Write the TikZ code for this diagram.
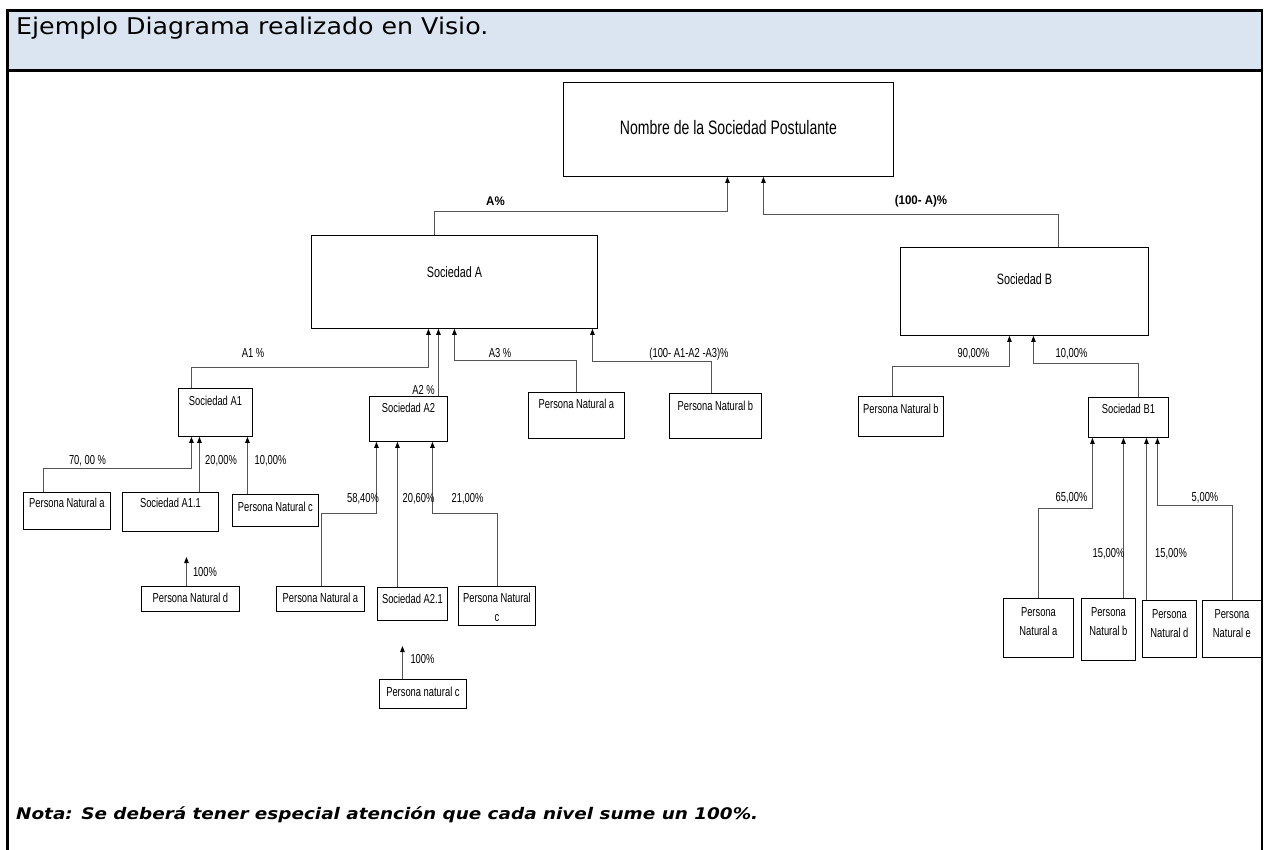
\documentclass[tikz,border=0pt]{standalone}
\usepackage{fontspec}
\setmainfont{Liberation Sans}
\newfontfamily\boxfont[FakeStretch=0.72]{Liberation Sans}
\newfontfamily\pctfont[FakeStretch=0.92]{Liberation Sans}
\newfontfamily\hdrfont[FakeStretch=1.1]{DejaVu Sans}
\newfontfamily\nfont[FakeStretch=1.15]{DejaVu Sans}
\usetikzlibrary{arrows.meta}
\definecolor{hdrblue}{HTML}{DBE5F1}
\definecolor{conngray}{HTML}{555555}
\newcommand\twoline[2]{\vtop{\halign{\hfil##\hfil\cr #1\cr #2\cr}}}
\begin{document}
\begin{tikzpicture}[x=1pt,y=-1pt,
  bx/.style n args={3}{draw=black, line width=0.9pt, inner sep=0pt, anchor=north west,
    minimum width=#1pt, text height=#2pt, text depth=#3pt,
    font=\boxfont\fontsize{13}{19}\selectfont},
  conn/.style={draw=conngray, line width=0.8pt, -{Triangle[length=6pt,width=4.5pt,color=black]}},
  pct/.style={inner sep=0pt, anchor=base, font=\boxfont\fontsize{13}{15}\selectfont},
  bpct/.style={inner sep=0pt, anchor=base, font=\pctfont\bfseries\fontsize{12.5}{15}\selectfont},
  frame/.style={draw=black, line width=2.8pt}]
\useasboundingbox (0,0) rectangle (1267,850);
% header and frame
\fill[hdrblue] (7.5,10.5) rectangle (1262,70.5);
\draw[frame] (7.5,850) -- (7.5,10.5) -- (1262,10.5) -- (1262,850);
\draw[frame] (7.5,70.5) -- (1262,70.5);
\node[anchor=base west, inner sep=0pt, font=\hdrfont\fontsize{23}{27}\selectfont] (title) at (16,34.5) {Ejemplo Diagrama realizado en Visio.};
\node[anchor=base west, inner sep=0pt, font=\nfont\bfseries\itshape\fontsize{16}{19}\selectfont] (nota) at (16,819) {Nota: Se deberá tener especial atención que cada nivel sume un 100\%.};
% boxes
\node[bx={330}{52}{42}, font=\boxfont\fontsize{19.5}{22}\selectfont] (main) at (563,82) {Nombre de la Sociedad Postulante};
\node[bx={286}{42}{51}, font=\boxfont\fontsize{15}{18}\selectfont] (sa) at (311,235) {Sociedad A};
\node[bx={248}{37}{51}, font=\boxfont\fontsize{15}{18}\selectfont] (sb) at (900,247) {Sociedad B};
\node[bx={74}{17}{31}] (a1) at (178,388) {Sociedad A1};
\node[bx={78}{16}{29}] (a2) at (369,396) {Sociedad A2};
\node[bx={96}{16}{30}] (pna3) at (528,392) {Persona Natural a};
\node[bx={92}{17}{28}] (pnb4) at (669,393) {Persona Natural b};
\node[bx={87}{15}{22}] (pna1) at (23,492) {Persona Natural a};
\node[bx={96}{15}{24}] (a11) at (122,492) {Sociedad A1.1};
\node[bx={86}{17}{15}] (pnc1) at (232,494) {Persona Natural c};
\node[bx={98}{16}{9}] (pnd) at (141,586) {Persona Natural d};
\node[bx={88}{16}{9}] (pna2) at (276,586) {Persona Natural a};
\node[bx={70}{16}{17}] (a21) at (377,587) {Sociedad A2.1};
\node[bx={77}{16}{23}] (pnc2) at (458,586) {\twoline{Persona Natural}{c}};
\node[bx={87}{17}{12}] (pncc) at (379,679) {Persona natural c};
\node[bx={85}{17}{23}] (pnbB) at (858,396) {Persona Natural b};
\node[bx={80}{16}{24}] (b1) at (1088,397) {Sociedad B1};
\node[bx={70}{18}{41}] (pnaB) at (1003,598) {\twoline{Persona}{Natural a}};
\node[bx={54}{18}{44}] (pnbB1) at (1081,598) {\twoline{Persona}{Natural b}};
\node[bx={54}{18}{39}] (pndB) at (1142,600) {\twoline{Persona}{Natural d}};
\node[bx={59}{18}{39}] (pneB) at (1202,600) {\twoline{Persona}{Natural e}};
% connectors
\draw[conn] ([xshift=-20pt]sa.north) -- ++(0,-24) -| ([xshift=-1pt]main.south);
\draw[conn] ([xshift=34pt]sb.north) -- ++(0,-33) -| ([xshift=35pt]main.south);
\draw[conn] ([xshift=-24pt]a1.north) -- ++(0,-21) -| ([xshift=-26pt]sa.south);
\draw[conn] ([xshift=30pt]a2.north) -- ([xshift=-16pt]sa.south);
\draw[conn] (pna3.north) -- ++(0,-32) -| (sa.south);
\draw[conn] ([xshift=-4pt]pnb4.north) -- ++(0,-32) -| ([xshift=138pt]sa.south);
\draw[conn] ([xshift=-23.5pt]pna1.north) -- ++(0,-24) -| ([xshift=-24pt]a1.south);
\draw[conn] ([xshift=29pt]a11.north) -- ([xshift=-16pt]a1.south);
\draw[conn] ([xshift=-28pt]pnc1.north) -- ([xshift=32pt]a1.south);
\draw[conn] ([xshift=-4pt]pnd.north) -- ++(0,-29);
\draw[conn] ([xshift=1pt]pna2.north) -- ++(0,-73) -| ([xshift=-32pt]a2.south);
\draw[conn] ([xshift=-15pt]a21.north) -- ([xshift=-11pt]a2.south);
\draw[conn] ([xshift=0.5pt]pnc2.north) -- ++(0,-73) -| ([xshift=24pt]a2.south);
\draw[conn] ([xshift=-20.5pt]pncc.north) -- ++(0,-33);
\draw[conn] ([xshift=-8.5pt]pnbB.north) -- ++(0,-30) -| ([xshift=-15pt]sb.south);
\draw[conn] ([xshift=10pt]b1.north) -- ++(0,-34) -| ([xshift=9pt]sb.south);
\draw[conn] (pnaB.north) -- ++(0,-90) -| ([xshift=-36pt]b1.south);
\draw[conn] ([xshift=15pt]pnbB1.north) -- ([xshift=-5pt]b1.south);
\draw[conn] ([xshift=-23pt]pndB.north) -- ([xshift=18pt]b1.south);
\draw[conn] ([xshift=0.5pt]pneB.north) -- ++(0,-95) -| ([xshift=29pt]b1.south);
% labels
\node[bpct] (lA) at (495.5,205.5) {A\%};
\node[bpct] (lB) at (921,205) {(100- A)\%};
\node[pct] (lA1) at (253,357.5) {A1 \%};
\node[pct] (lA2) at (423.5,394.5) {A2 \%};
\node[pct] (lA3) at (500,358) {A3 \%};
\node[pct] (lA4) at (689,358) {(100- A1-A2 -A3)\%};
\node[pct] (l70) at (87.5,464) {70, 00 \%};
\node[pct] (l20) at (221,464) {20,00\%};
\node[pct] (l10) at (270.5,464) {10,00\%};
\node[pct] (l100d) at (205,576) {100\%};
\node[pct] (l58) at (363,502) {58,40\%};
\node[pct] (l206) at (418.5,502) {20,60\%};
\node[pct] (l21) at (467.5,502) {21,00\%};
\node[pct] (l100c) at (422.5,663) {100\%};
\node[pct] (l90) at (973.5,358) {90,00\%};
\node[pct] (l10B) at (1071.5,358) {10,00\%};
\node[pct] (l65) at (1071.5,501) {65,00\%};
\node[pct] (l15b) at (1108.5,557) {15,00\%};
\node[pct] (l15d) at (1171,557) {15,00\%};
\node[pct] (l5) at (1205,501) {5,00\%};
\end{tikzpicture}
\end{document}
